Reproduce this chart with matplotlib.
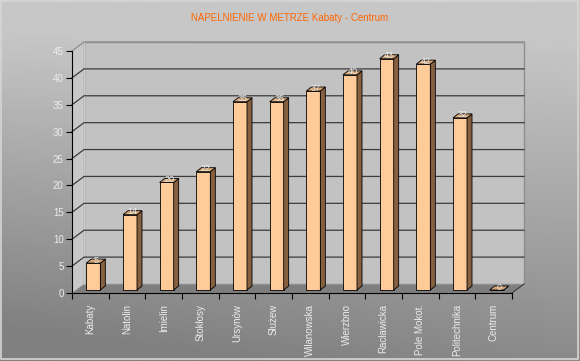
import numpy as np
import matplotlib
matplotlib.use('Agg')
import matplotlib.pyplot as plt
from matplotlib.patches import Polygon

plt.rcParams['font.family'] = ['Liberation Sans', 'DejaVu Sans']

TITLE = 'NAPELNIENIE W METRZE Kabaty - Centrum'
stations = ['Kabaty', 'Natolin', 'Imielin', 'Stokłosy', 'Ursynów', 'Służew',
            'Wilanowska', 'Wierzbno', 'Racławicka', 'Pole Mokot.',
            'Politechnika', 'Centrum']
values = [5, 14, 20, 22, 35, 35, 37, 40, 43, 42, 32, 0]
y_ticks = list(range(0, 50, 5))

W, H = 580, 361
FRONT = '#ffcc99'
SIDE = '#86603f'
TOP = '#d4a574'
WALL = '#c2c2c2'
FLOOR = '#7e7e7e'
GRID = '#3c3c3c'
LABEL = '#ececec'

fig = plt.figure(figsize=(W / 100, H / 100), dpi=100)

# background gradient
bg = fig.add_axes([0, 0, 1, 1])
yy, xx = np.mgrid[0:1:200j, 0:1:300j]
t = np.clip(0.95 * yy + 0.25 * (1 - xx) * yy - 0.1, 0, 1)
shade = 0.78 - 0.28 * t
bg.imshow(shade, cmap='gray', vmin=0, vmax=1, extent=[0, 1, 1, 0],
          aspect='auto', interpolation='bilinear')
bg.set_xlim(0, 1)
bg.set_ylim(1, 0)
bg.axis('off')
# light frame
bg.plot([0.002, 0.002, 0.997, 0.997, 0.002], [0.004, 0.994, 0.994, 0.004, 0.004],
        color='#d6d6d6', lw=1.2)

bg.text(0.5, 18 / H, TITLE, ha='center', va='center', color='#ff6600',
        fontsize=7)

ax = fig.add_axes([72 / W, (H - 293) / H, 440 / W, 242 / H])
n = len(stations)
x = np.arange(n)
ax.set_xlim(-0.5, n - 0.5)
ax.set_ylim(0, 45)
ax.patch.set_visible(False)

# pixel -> data unit conversion
pxx = (440 / n)
pxy = 242 / 45
def dxp(p):
    return p / pxx
def dyp(p):
    return p / pxy

# wall depth
wx, wy = dxp(12), dyp(9)
x0, x1 = -0.5, n - 0.5

floor = Polygon([(x0, 0), (x1, 0), (x1 + wx, wy), (x0 + wx, wy)],
                facecolor=FLOOR, edgecolor='none', zorder=0, clip_on=False)
ax.add_patch(floor)
side_wall = Polygon([(x0, 0), (x0 + wx, wy), (x0 + wx, 45 + wy), (x0, 45)],
                    facecolor='#c8c8c8', edgecolor='none', zorder=0, clip_on=False)
ax.add_patch(side_wall)
back_wall = Polygon([(x0 + wx, wy), (x1 + wx, wy), (x1 + wx, 45 + wy), (x0 + wx, 45 + wy)],
                    facecolor=WALL, edgecolor='#8e8e8e', lw=1.0, zorder=0, clip_on=False)
ax.add_patch(back_wall)
ax.plot([x1, x1 + wx], [0, wy], color=GRID, lw=0.8, zorder=1, clip_on=False)
ax.plot([x0 + wx, x0 + wx], [wy, 45 + wy], color='#d8d8d8', lw=0.6, zorder=1, clip_on=False)

for v in y_ticks[1:]:
    col = GRID if v < 45 else '#8e8e8e'
    ax.plot([x0, x0 + wx, x1 + wx], [v, v + wy, v + wy], color=col, lw=0.9,
            zorder=1, clip_on=False)

# bars
bw = dxp(14)
bx, by = dxp(3), dyp(3)
sx, sy = dxp(5), dyp(4)
ax.bar(x + bx, values, width=bw, bottom=by, color=FRONT, edgecolor='black',
       linewidth=0.6, zorder=3)
for xi, v in zip(x, values):
    l = xi + bx - bw / 2
    r = xi + bx + bw / 2
    top = v + by
    ax.add_patch(Polygon([(r, by), (r + sx, by + sy), (r + sx, top + sy), (r, top)],
                         facecolor=SIDE, edgecolor='black', lw=0.6, zorder=3,
                         clip_on=False))
    ax.add_patch(Polygon([(l, top), (r, top), (r + sx, top + sy), (l + sx, top + sy)],
                         facecolor=TOP, edgecolor='black', lw=0.6, zorder=3,
                         clip_on=False))
    ax.text(xi + bx + sx / 2, top + dyp(3), str(v), ha='center', va='center',
            color=LABEL, fontsize=6.5, zorder=4, clip_on=False)

# axes
for s in ['top', 'right']:
    ax.spines[s].set_visible(False)
ax.spines['left'].set_color('black')
ax.spines['bottom'].set_color('black')
ax.spines['left'].set_zorder(5)
ax.spines['bottom'].set_zorder(5)
ax.set_yticks(y_ticks)
ax.set_yticklabels([str(v) for v in y_ticks])
ax.tick_params(axis='y', length=4, width=0.8, colors='black', labelcolor=LABEL,
               labelsize=7, pad=2)
ax.set_xticks(x)
ax.set_xticklabels(stations, rotation=90)
ax.tick_params(axis='x', length=0, labelcolor=LABEL, labelsize=7, pad=8)
ax.set_xticks(np.arange(-0.5, n, 1), minor=True)
ax.tick_params(axis='x', which='minor', length=4, width=0.8, colors='black')

fig.savefig('out.png', dpi=100)
